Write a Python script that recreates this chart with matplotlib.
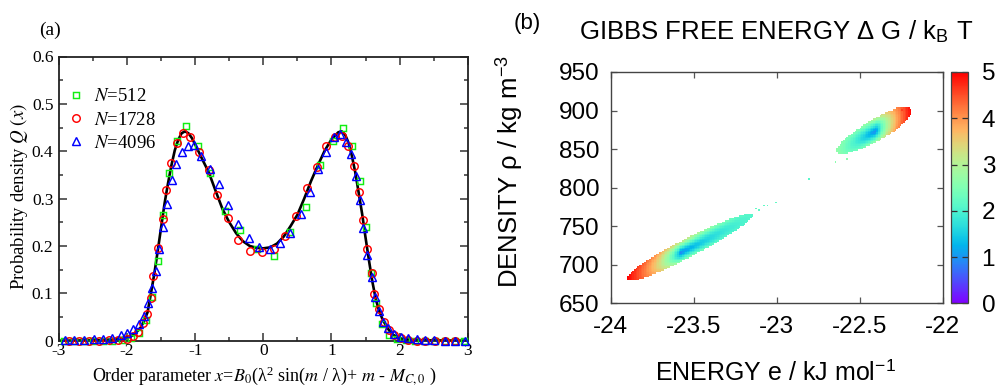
import numpy as np
import matplotlib
matplotlib.use("Agg")
import matplotlib.pyplot as plt
from matplotlib.ticker import MultipleLocator

plt.rcParams['axes.unicode_minus'] = False
plt.rcParams['mathtext.fontset'] = 'stix'

# ---------------- panel (a) data ----------------
curve_x = [-3.0, -2.4, -2.2, -2.1, -2.0, -1.9, -1.8, -1.75, -1.7, -1.65, -1.6, -1.55, -1.5,
           -1.45, -1.4, -1.35, -1.3, -1.25, -1.2, -1.15, -1.1, -1.05, -1.0, -0.95, -0.9,
           -0.8, -0.7, -0.6, -0.5, -0.4, -0.3, -0.2, -0.1, 0.0, 0.1, 0.2, 0.3, 0.4, 0.5,
           0.6, 0.7, 0.8, 0.9, 1.0, 1.1, 1.15, 1.2, 1.25, 1.3, 1.35, 1.4, 1.45, 1.5, 1.55,
           1.6, 1.65, 1.7, 1.75, 1.8, 1.85, 1.9, 2.0, 2.2, 3.0]
curve_y = [0.0, 0.001, 0.003, 0.005, 0.008, 0.012, 0.028, 0.042, 0.060, 0.100, 0.142, 0.190, 0.240,
           0.290, 0.332, 0.370, 0.402, 0.424, 0.438, 0.442, 0.438, 0.428, 0.414, 0.399, 0.384,
           0.355, 0.316, 0.278, 0.250, 0.227, 0.210, 0.200, 0.196, 0.195, 0.197, 0.205, 0.220, 0.242, 0.266,
           0.300, 0.337, 0.370, 0.401, 0.425, 0.440, 0.442, 0.435, 0.418, 0.390, 0.355, 0.312, 0.268, 0.218, 0.170,
           0.125, 0.088, 0.063, 0.045, 0.032, 0.021, 0.013, 0.005, 0.001, 0.0]

n512_x = [-2.93, -2.78, -2.64, -2.50, -2.36, -2.22, -2.08, -1.95, -1.819, -1.725, -1.628, -1.549,
          -1.475, -1.378, -1.27, -1.132, -0.966, -0.779, -0.566, -0.338, -0.09, 0.155, 0.392,
          0.625, 0.83, 1.02, 1.172, 1.304, 1.412, 1.505, 1.574, 1.657, 1.735, 1.843, 1.96,
          2.09, 2.23, 2.37, 2.52, 2.66, 2.81, 2.95]
n512_y = [0.0, 0.0, 0.0, 0.0, 0.0, 0.0, 0.001, 0.005, 0.017, 0.044, 0.093, 0.168,
          0.266, 0.355, 0.422, 0.453, 0.410, 0.354, 0.274, 0.233, 0.193, 0.179, 0.229,
          0.283, 0.370, 0.422, 0.449, 0.410, 0.337, 0.241, 0.142, 0.079, 0.035, 0.011, 0.004,
          0.001, 0.0, 0.0, 0.0, 0.0, 0.0, 0.0]

n1728_x = [-2.86, -2.70, -2.56, -2.41, -2.27, -2.13, -2.0, -1.917, -1.834, -1.76, -1.71, -1.651,
           -1.613, -1.54, -1.48, -1.426, -1.357, -1.27, -1.18, -1.074, -0.951, -0.804, -0.676,
           -0.525, -0.365, -0.191, -0.019, 0.151, 0.324, 0.485, 0.637, 0.79, 0.921, 1.049, 1.152,
           1.245, 1.328, 1.40, 1.466, 1.525, 1.588, 1.622, 1.696, 1.77, 1.843, 1.917, 2.015,
           2.13, 2.25, 2.38, 2.52, 2.67, 2.81]
n1728_y = [0.0, 0.0, 0.0, 0.0, 0.001, 0.001, 0.004, 0.009, 0.018, 0.038, 0.056, 0.091,
           0.137, 0.196, 0.256, 0.318, 0.375, 0.417, 0.438, 0.431, 0.399, 0.361, 0.307,
           0.258, 0.212, 0.190, 0.187, 0.194, 0.221, 0.264, 0.323, 0.367, 0.410, 0.430, 0.432,
           0.411, 0.369, 0.313, 0.255, 0.194, 0.142, 0.099, 0.066, 0.040, 0.023, 0.012, 0.005,
           0.001, 0.0, 0.0, 0.0, 0.0, 0.0]

n4096_x = [-2.91, -2.775, -2.63, -2.48, -2.35, -2.216, -2.09, -1.996, -1.907, -1.825, -1.75,
           -1.687, -1.628, -1.578, -1.525, -1.466, -1.416, -1.348, -1.282, -1.2, -1.11, -1.012,
           -0.91, -0.785, -0.655, -0.515, -0.372, -0.216, -0.064, 0.093, 0.24, 0.397, 0.552,
           0.683, 0.80, 0.926, 1.034, 1.132, 1.216, 1.29, 1.353, 1.426, 1.47, 1.525, 1.588,
           1.637, 1.696, 1.755, 1.834, 1.917, 2.015, 2.12, 2.25, 2.37, 2.51, 2.66, 2.81, 2.96]
n4096_y = [0.002, 0.002, 0.002, 0.003, 0.003, 0.006, 0.011, 0.017, 0.025, 0.035, 0.052,
           0.079, 0.111, 0.147, 0.193, 0.241, 0.288, 0.339, 0.373, 0.399, 0.412, 0.413,
           0.390, 0.362, 0.330, 0.287, 0.247, 0.217, 0.198, 0.193, 0.206, 0.227, 0.268,
           0.313, 0.362, 0.399, 0.430, 0.437, 0.420, 0.394, 0.347, 0.297, 0.238, 0.181, 0.134,
           0.093, 0.063, 0.040, 0.026, 0.014, 0.008, 0.005, 0.003, 0.002, 0.001, 0.0, 0.0, 0.0]

series_labels = [r"$N$=512", r"$N$=1728", r"$N$=4096"]
series_colors = ["#11ee11", "#ff0000", "#0000ff"]
series_markers = ["s", "o", "^"]
series_sizes = [4.6, 5.4, 5.4]

xticks_a = [-3, -2, -1, 0, 1, 2, 3]
yticks_a = [0, 0.1, 0.2, 0.3, 0.4, 0.5, 0.6]
yticklabels_a = ["0", "0.1", "0.2", "0.3", "0.4", "0.5", "0.6"]

# ---------------- panel (b) data ----------------
# free-energy basins (read from the map): centre of body, axis, widths, dG levels
basin_e_center = [-23.52, -22.415]
basin_rho_center = [723.5, 873.5]
basin_e_halflen = [0.38, 0.225]
basin_slope = [109.0, 115.0]
basin_rho_halfwidth = [13.5, 16.0]
basin_p_low = [2.6, 1.5]
basin_p_high = [1.6, 2.6]
basin_e_min = [-23.58, -22.40]
basin_rho_min = [715.0, 874.0]
basin_G_min = [0.75, 0.8]
basin_G_low_end = [5.0, 2.7]
basin_G_high_end = [2.1, 5.0]
basin_G_edge = [3.0, 3.0]
basin_q_low = [0.55, 0.8]
basin_q_high = [0.5, 0.6]

# isolated sampled states
isolated_e = [-22.805, -23.00, -23.07, -23.05, -23.10, -23.12, -22.64, -22.57, -22.247]
isolated_rho = [811.0, 781.0, 777.0, 778.0, 771.0, 774.0, 834.0, 838.0, 901.0]
isolated_G = [2.1, 2.2, 2.2, 2.2, 2.2, 2.2, 2.6, 2.6, 4.6]

xticks_b = [-24, -23.5, -23, -22.5, -22]
xticklabels_b = ["-24", "-23.5", "-23", "-22.5", "-22"]
yticks_b = [650, 700, 750, 800, 850, 900, 950]
cticks = [0, 1, 2, 3, 4, 5]

# ---------------- figure ----------------
W, H = 1007, 392
fig = plt.figure(figsize=(W / 100, H / 100), dpi=100)

def fx(px):
    return px / W

def fy(py):
    return 1 - py / H

serif = "Liberation Serif"
sans = "Liberation Sans"

# ---- panel (a)
axA = fig.add_axes([fx(59), fy(340.7), fx(467.7) - fx(59), fy(56.5) - fy(340.7)])
axA.plot(curve_x, curve_y, color="black", lw=1.9, zorder=2)
for xs, ys, lab, c, m, ms in zip([n512_x, n1728_x, n4096_x], [n512_y, n1728_y, n4096_y],
                                 series_labels, series_colors, series_markers, series_sizes):
    axA.plot(xs, ys, linestyle="none", marker=m, ms=ms, mfc="none", mec=c, mew=1.05,
             label=lab, zorder=3, clip_on=False)
axA.set_xlim(-3, 3)
axA.set_ylim(0, 0.6)
axA.set_xticks(xticks_a)
axA.set_xticklabels([str(v) for v in xticks_a])
axA.set_yticks(yticks_a)
axA.set_yticklabels(yticklabels_a)
axA.xaxis.set_minor_locator(MultipleLocator(0.5))
axA.yaxis.set_minor_locator(MultipleLocator(0.05))
axA.tick_params(which="both", direction="in", top=True, right=True, width=1.1, color="#333333")
axA.tick_params(which="major", length=5.5, labelsize=12.5)
axA.tick_params(axis="x", which="major", pad=2)
axA.tick_params(axis="y", which="major", pad=4)
axA.tick_params(which="minor", length=3.2)
for lab in axA.get_xticklabels() + axA.get_yticklabels():
    lab.set_fontfamily(serif)
for s in axA.spines.values():
    s.set_linewidth(1.3)
    s.set_color("#222222")
leg = axA.legend(loc="upper left", bbox_to_anchor=(0.0, 0.915), frameon=False,
                 handlelength=1.0, handletextpad=0.45, labelspacing=0.33, borderaxespad=0,
                 prop={"family": serif, "size": 13.5})

fig.text(fx(19), fy(197), r"Probability density $Q\ (x)$", rotation=90, ha="center",
         va="center", fontsize=13.5, family=serif)
fig.text(fx(264), fy(380.5),
         r"Order parameter $x$=$B_{\mathit{0}}$(λ$^{\mathregular{2}}$ sin($m$ / λ)+ $m$ - $M_{\mathit{C,0}}$ )",
         ha="center", va="baseline", fontsize=13, family=serif)
fig.text(fx(50.5), fy(30), "(a)", ha="center", va="center", fontsize=14, family=serif)

# ---- panel (b)
axB = fig.add_axes([fx(610.7), fy(303.3), fx(942.7) - fx(610.7), fy(72) - fy(303.3)])

e_edges = np.arange(-24.0, -21.995, 0.01)
rho_edges = np.arange(650.0, 951.0, 2.0)
e_c = 0.5 * (e_edges[:-1] + e_edges[1:])
r_c = 0.5 * (rho_edges[:-1] + rho_edges[1:])
E, R = np.meshgrid(e_c, r_c)
G = np.full(E.shape, np.nan)
for i in range(len(basin_e_center)):
    u = (E - basin_e_center[i]) / basin_e_halflen[i]
    axis_rho = basin_rho_center[i] + basin_slope[i] * (E - basin_e_center[i])
    v = (R - axis_rho) / basin_rho_halfwidth[i]
    p = np.where(u < 0, basin_p_low[i], basin_p_high[i])
    inside = (np.abs(u) ** p + v ** 2) <= 1.0
    um = (basin_e_min[i] - basin_e_center[i]) / basin_e_halflen[i]
    vm = (basin_rho_min[i] - (basin_rho_center[i] + basin_slope[i] * (basin_e_min[i] - basin_e_center[i]))) / basin_rho_halfwidth[i]
    s_lo = np.clip((um - u) / (um + 1.0), 0, 1)
    s_hi = np.clip((u - um) / (1.0 - um), 0, 1)
    A = ((basin_G_low_end[i] - basin_G_min[i]) * s_lo ** basin_q_low[i]
         + (basin_G_high_end[i] - basin_G_min[i]) * s_hi ** basin_q_high[i])
    B = (basin_G_edge[i] - basin_G_min[i]) * np.abs(v - vm) * (1 - 0.6 * np.maximum(s_lo, s_hi))
    g = np.clip(basin_G_min[i] + np.sqrt(A ** 2 + B ** 2), 0, 5)
    G = np.where(inside, g, G)
for e0, r0, g0 in zip(isolated_e, isolated_rho, isolated_G):
    j = np.argmin(np.abs(e_c - e0))
    k = np.argmin(np.abs(r_c - r0))
    G[k, j] = g0

mesh = axB.pcolormesh(e_edges, rho_edges, np.ma.masked_invalid(G), cmap="rainbow",
                      vmin=0, vmax=5, shading="flat")
axB.set_xlim(-24, -22)
axB.set_ylim(650, 950)
axB.set_xticks(xticks_b)
axB.set_xticklabels(xticklabels_b)
axB.set_yticks(yticks_b)
axB.set_yticklabels([str(v) for v in yticks_b])
axB.tick_params(direction="in", top=True, right=True, length=4, width=0.9,
                labelsize=17.5, color="#555555")
axB.tick_params(axis="x", pad=9)
axB.tick_params(axis="y", pad=8)
for lab in axB.get_xticklabels() + axB.get_yticklabels():
    lab.set_fontfamily(sans)
for s in axB.spines.values():
    s.set_linewidth(1.0)
    s.set_color("#444444")

cax = fig.add_axes([fx(951.3), fy(303.3), fx(967.7) - fx(951.3), fy(72) - fy(303.3)])
cb = fig.colorbar(mesh, cax=cax, ticks=cticks)
cb.outline.set_linewidth(0.9)
cb.outline.set_edgecolor("#444444")
cax.tick_params(direction="in", left=True, right=True, length=4, width=0.9,
                labelsize=17.5, pad=10, color="#333333")
cax.set_yticklabels([str(v) for v in cticks])
for lab in cax.get_yticklabels():
    lab.set_fontfamily(sans)

fig.text(fx(776), fy(39), r"GIBBS FREE ENERGY Δ G / k$_{\mathregular{B}}$ T", ha="center",
         va="baseline", fontsize=18.5, family=sans)
fig.text(fx(775), fy(381), r"ENERGY e / kJ mol$^{\mathregular{-1}}$", ha="center",
         va="baseline", fontsize=18, family=sans)
fig.text(fx(509), fy(172), r"DENSITY ρ / kg m$^{\mathregular{-3}}$", rotation=90, ha="center",
         va="center", fontsize=18.5, family=sans)
fig.text(fx(527), fy(24), "(b)", ha="center", va="center", fontsize=16, family=sans)

fig.savefig("out.png", dpi=100)
